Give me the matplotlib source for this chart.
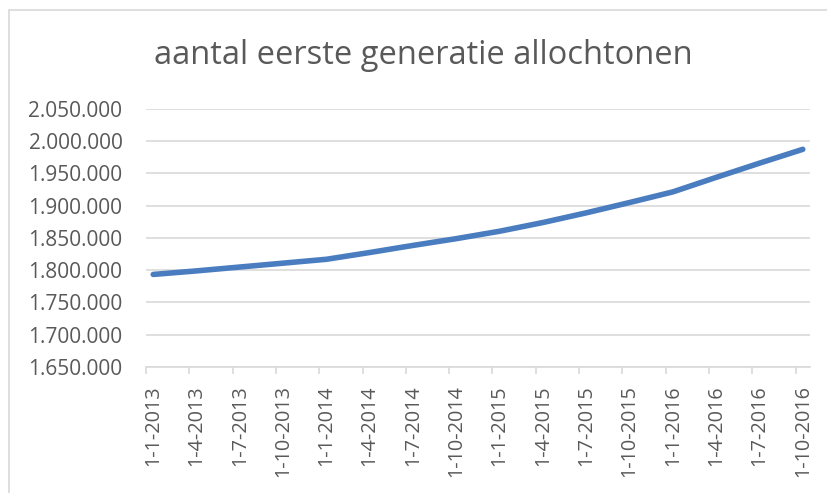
import numpy as np
import matplotlib.pyplot as plt
from matplotlib.patches import Rectangle
from matplotlib.ticker import FuncFormatter

# --- data ---
dates = ['1-1-2013', '1-4-2013', '1-7-2013', '1-10-2013',
         '1-1-2014', '1-4-2014', '1-7-2014', '1-10-2014',
         '1-1-2015', '1-4-2015', '1-7-2015', '1-10-2015',
         '1-1-2016', '1-4-2016', '1-7-2016', '1-10-2016']
values = [1793500, 1799000, 1805000, 1811000,
          1817000, 1827500, 1838500, 1849000,
          1860500, 1874000, 1889000, 1905000,
          1921500, 1944000, 1966000, 1987500]
title = 'aantal eerste generatie allochtonen'

# months since 1-1-2013 (quarterly points)
months = np.arange(len(dates)) * 3

plt.rcParams['font.family'] = ['Open Sans', 'DejaVu Sans']
txt_color = '#595959'
grid_color = '#D9D9D9'

fig = plt.figure(figsize=(8.28, 4.93), dpi=100)
ax = fig.add_axes([146/828, 1 - 367/493, (810-146)/828, (367-109)/493])

ax.plot(months, values, color='#4A7DBF', lw=4.0, solid_capstyle='round',
        solid_joinstyle='round', zorder=3)

ax.set_ylim(1650000, 2050000)
ax.set_yticks(np.arange(1650000, 2050001, 50000))
ax.yaxis.set_major_formatter(FuncFormatter(lambda v, p: f'{v:,.0f}'.replace(',', '.')))
ax.grid(axis='y', color=grid_color, lw=1.2)
ax.set_axisbelow(True)

ax.set_xlim(-0.5, months[-1] + 0.5)
ax.set_xticks(months - 0.5)
ax.set_xticklabels([])
ax.set_xticks(months, labels=dates, minor=True)

ax.tick_params(axis='y', length=0, pad=17, labelsize=15, labelcolor=txt_color)
ax.tick_params(axis='x', which='major', length=5, width=1.2, color=grid_color)
ax.tick_params(axis='x', which='minor', length=0, pad=13, labelsize=14.3,
               labelcolor=txt_color, labelrotation=90)

for s in ['top', 'right', 'left']:
    ax.spines[s].set_visible(False)
ax.spines['bottom'].set_color(grid_color)
ax.spines['bottom'].set_linewidth(1.2)

fig.text(423.5/828, 1 - 56/493, title, ha='center', va='center',
         fontsize=23.5, color=txt_color)

# chart border (runs off the right and bottom edge)
fig.patches.append(Rectangle((8.5/828, -0.1), 1.2, 1 - 10.5/493 + 0.1,
                             transform=fig.transFigure, fill=False,
                             edgecolor=grid_color, lw=1.2))

fig.savefig('out.png', dpi=100)
